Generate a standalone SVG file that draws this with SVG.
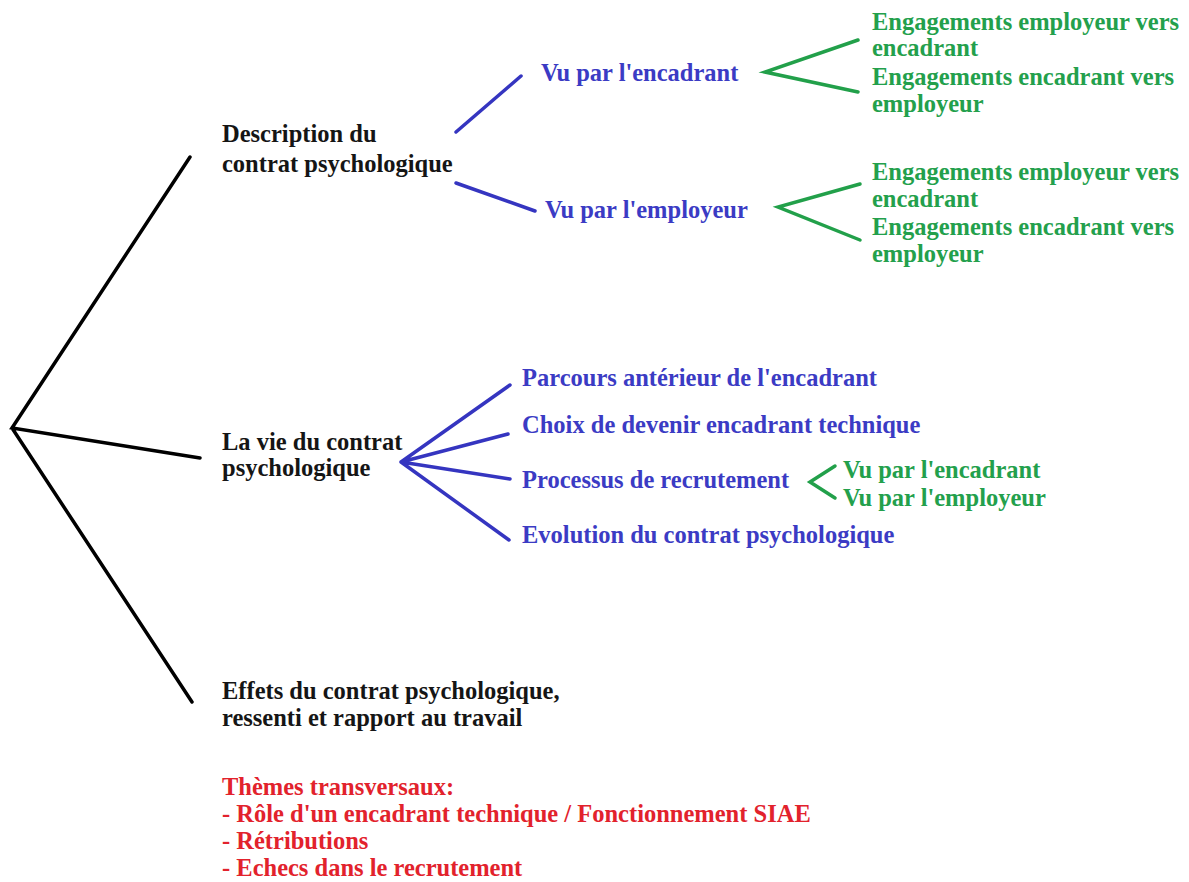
<svg xmlns="http://www.w3.org/2000/svg" width="1189" height="882" viewBox="0 0 1189 882">
<style>
text{font-family:"Liberation Serif","Times New Roman",serif;font-weight:bold;font-size:24.5px}
.k{fill:#151515}.b{fill:#3b3bc4}.g{fill:#23a04c}.r{fill:#e2222c}
.lk{stroke:#000;stroke-width:3.5;fill:none;stroke-linecap:round}
.lb{stroke:#3535c0;stroke-width:3.5;fill:none;stroke-linecap:round}
.lg{stroke:#22a04a;stroke-width:3.5;fill:none;stroke-linecap:round;stroke-linejoin:miter}
</style>
<rect width="1189" height="882" fill="#fff"/>
<g id="connectors">
<path class="lk" d="M190,157 L12,428 L200,458 M12,428 L192,702"/>
<path class="lb" d="M456,132 L521,76 M456,183 L535,211"/>
<path class="lb" d="M510,385 L401,462 L508,434 M401,462 L510,479 M401,462 L509,540"/>
<path class="lg" d="M858,40 L765,72 L858,92"/>
<path class="lg" d="M860,184 L778,207 L860,240"/>
<path class="lg" d="M835,466 L810,482 L835,498"/>
</g>
<g id="n-description"><text class="k" x="222" y="142">Description du</text><text class="k" x="222" y="172">contrat psychologique</text></g>
<g id="n-vu-encadrant"><text class="b" x="541" y="81">Vu par l'encadrant</text></g>
<g id="n-vu-employeur"><text class="b" x="545" y="218">Vu par l'employeur</text></g>
<g id="n-eng1"><text class="g" x="872" y="30">Engagements employeur vers</text><text class="g" x="872" y="56">encadrant</text></g>
<g id="n-eng2"><text class="g" x="872" y="85">Engagements encadrant vers</text><text class="g" x="872" y="112">employeur</text></g>
<g id="n-eng3"><text class="g" x="872" y="180">Engagements employeur vers</text><text class="g" x="872" y="207">encadrant</text></g>
<g id="n-eng4"><text class="g" x="872" y="235">Engagements encadrant vers</text><text class="g" x="872" y="262">employeur</text></g>
<g id="n-vie"><text class="k" x="222" y="450">La vie du contrat</text><text class="k" x="222" y="476">psychologique</text></g>
<g id="n-parcours"><text class="b" x="522" y="386">Parcours antérieur de l'encadrant</text></g>
<g id="n-choix"><text class="b" x="522" y="433">Choix de devenir encadrant technique</text></g>
<g id="n-processus"><text class="b" x="522" y="488">Processus de recrutement</text></g>
<g id="n-evolution"><text class="b" x="522" y="543">Evolution du contrat psychologique</text></g>
<g id="n-proc-enc"><text class="g" x="843" y="478">Vu par l'encadrant</text></g>
<g id="n-proc-emp"><text class="g" x="843" y="506">Vu par l'employeur</text></g>
<g id="n-effets"><text class="k" x="222" y="699">Effets du contrat psychologique,</text><text class="k" x="222" y="726">ressenti et rapport au travail</text></g>
<g id="n-themes"><text class="r" x="222" y="795">Thèmes transversaux:</text><text class="r" x="222" y="822">- Rôle d'un encadrant technique / Fonctionnement SIAE</text><text class="r" x="222" y="849">- Rétributions</text><text class="r" x="222" y="876">- Echecs dans le recrutement</text></g>
</svg>
